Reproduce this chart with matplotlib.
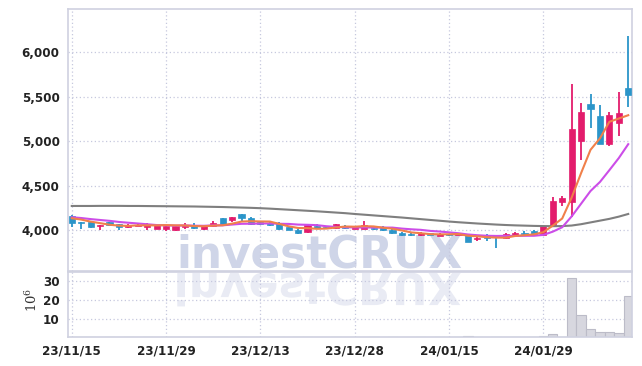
import matplotlib
matplotlib.use("Agg")
import matplotlib.pyplot as plt
import numpy as np
import pandas as pd
from matplotlib.textpath import TextPath
from matplotlib.patches import PathPatch
from matplotlib.font_manager import FontProperties
from matplotlib.transforms import Affine2D

# daily candles, 23/11/15 .. 24/02
opens = [4160, 4085, 4095, 4040, 4085, 4065, 4030, 4045, 4030, 4015,
         4015, 4000, 4035, 4040, 4015, 4040, 4130, 4115, 4180, 4140,
         4085, 4080, 4080, 4030, 4005, 3975, 4045, 4035, 4020, 4040,
         4015, 4015, 4025, 4035, 4000, 3970, 3958, 3945, 3965, 3935,
         3955, 3945, 3940, 3895, 3935, 3930, 3907, 3945, 3968, 3990,
         3945, 4050, 4320, 4320, 5000, 5420, 5285, 4963, 5200, 5600]
highs = [4170, 4085, 4095, 4060, 4095, 4070, 4065, 4075, 4075, 4060,
         4050, 4050, 4075, 4080, 4050, 4105, 4135, 4150, 4185, 4150,
         4100, 4085, 4085, 4035, 4010, 4060, 4065, 4040, 4070, 4060,
         4050, 4100, 4035, 4040, 4010, 3975, 3965, 3975, 3970, 3965,
         3960, 3965, 3945, 3920, 3955, 3935, 3965, 3975, 3985, 3995,
         4050, 4375, 4385, 5645, 5430, 5525, 5410, 5330, 5550, 6180]
lows = [4030, 4010, 4025, 4000, 4045, 4005, 4020, 4040, 4005, 4010,
        3985, 3985, 4015, 4015, 4005, 4035, 4060, 4095, 4100, 4060,
        4055, 4045, 4005, 4000, 3955, 3970, 4020, 4020, 4015, 4015,
        4010, 4010, 4000, 3990, 3960, 3935, 3935, 3935, 3940, 3930,
        3935, 3940, 3860, 3875, 3875, 3795, 3895, 3935, 3945, 3950,
        3935, 4045, 4265, 4150, 4790, 5150, 4965, 4940, 5055, 5385]
closes = [4080, 4075, 4030, 4055, 4055, 4030, 4060, 4060, 4055, 4055,
          4045, 4045, 4055, 4020, 4045, 4080, 4065, 4145, 4140, 4065,
          4065, 4060, 4012, 4005, 3970, 4055, 4025, 4025, 4065, 4025,
          4045, 4055, 4010, 3995, 3968, 3945, 3945, 3965, 3945, 3955,
          3948, 3960, 3870, 3912, 3905, 3925, 3955, 3965, 3955, 3955,
          4045, 4325, 4365, 5130, 5330, 5355, 4970, 5295, 5315, 5515]
# closes before the window (only feed the moving averages)
prior_closes = [4160, 4150, 4155, 4150, 4155, 4150, 4145, 4140, 4145]
# long moving average
ma_long = [4270, 4270, 4270, 4271, 4271, 4271, 4270, 4270, 4269, 4268,
           4267, 4266, 4265, 4264, 4262, 4260, 4258, 4255, 4252, 4249,
           4245, 4240, 4234, 4228, 4222, 4216, 4210, 4203, 4196, 4189,
           4180, 4172, 4164, 4156, 4148, 4140, 4131, 4122, 4113, 4104,
           4095, 4087, 4080, 4073, 4067, 4061, 4056, 4052, 4049, 4046,
           4044, 4043, 4044, 4050, 4065, 4085, 4105, 4125, 4150, 4180]
# volume in millions
volume = [0.6, 0.2, 0.2, 0.1, 0.2, 0.1, 0.2, 0.1, 0.2, 0.1,
          0.2, 0.1, 0.2, 0.1, 0.2, 0.4, 0.2, 0.1, 0.2, 0.1,
          0.2, 0.1, 0.2, 0.1, 0.4, 0.2, 0.1, 0.1, 0.2, 0.1,
          0.2, 0.1, 0.2, 0.1, 0.2, 0.1, 0.1, 0.2, 0.1, 0.2,
          0.1, 0.2, 0.8, 0.2, 0.1, 0.2, 0.1, 0.2, 0.1, 0.2,
          1.0, 2.0, 0.5, 31.4, 12.1, 4.6, 3.2, 3.2, 2.6, 22.0]
tick_idx = [0, 10, 20, 30, 40, 50]
tick_labels = ["23/11/15", "23/11/29", "23/12/13", "23/12/28", "24/01/15", "24/01/29"]

UP = "#e31c6c"
DOWN = "#2b95c9"
GRID = "#c6c8de"
FRAME = "#cfd1e0"
label_font = FontProperties(family="DejaVu Sans", stretch="condensed", weight="bold", size=9.5)

n = len(closes)
x = np.arange(n)
o = np.array(opens); c = np.array(closes)
colors = [UP if cc >= oo else DOWN for oo, cc in zip(o, c)]

allc = pd.Series(prior_closes + closes)
ma5 = allc.rolling(5).mean().values[len(prior_closes):]
ma10 = allc.rolling(10).mean().values[len(prior_closes):]

fig = plt.figure(figsize=(6.42, 3.66), dpi=100, facecolor="white")
ax = fig.add_axes([68 / 642, (366 - 271) / 366, 564 / 642, 262 / 366])
axv = fig.add_axes([68 / 642, (366 - 337.3) / 366, 564 / 642, 65 / 366], sharex=ax)

for a in (ax, axv):
    a.set_facecolor("none")
    a.grid(True, color=GRID, linestyle=(0, (1, 2)), linewidth=0.9)
    a.set_axisbelow(True)
    for s in a.spines.values():
        s.set_color(FRAME)
        s.set_linewidth(1.2)
    a.tick_params(length=0, colors="#222222", pad=6)

# watermark + reflection, behind the axes
wm_y = (366 - 267) / 366
fig.text(319 / 642, wm_y, "investCRUX", ha="center", va="baseline", fontsize=31.5,
         fontweight="bold", color="#cfd5e8", family="DejaVu Sans", zorder=-2)
tp = TextPath((0, 0), "investCRUX", size=44, prop=FontProperties(family="DejaVu Sans", weight="bold"))
ext = tp.get_extents()
tr = Affine2D().translate(-(ext.x0 + ext.x1) / 2, 0).scale(0.01, -0.01).translate(3.19, (366 - 273) / 100)
fig.add_artist(PathPatch(tp, transform=tr + fig.dpi_scale_trans, facecolor="#e9ebf4",
                         edgecolor="none", zorder=-3))

# candles
ax.vlines(x, lows, highs, colors=colors, linewidth=1.3, zorder=2)
body_lo = np.minimum(o, c)
body_h = np.maximum(np.abs(c - o), 8)
ax.bar(x, body_h, bottom=body_lo, width=0.65, color=colors, edgecolor=colors, linewidth=0.5, zorder=3)

ax.plot(x, ma_long, color="#7f7f7f", linewidth=1.5, zorder=4)
ax.plot(x, ma10, color="#cc4de8", linewidth=1.5, zorder=4)
ax.plot(x, ma5, color="#f0804a", linewidth=1.5, zorder=4)

ax.set_ylim(3539, 6484)
ax.set_yticks([4000, 4500, 5000, 5500, 6000])
ax.set_yticklabels(["4,000", "4,500", "5,000", "5,500", "6,000"], fontproperties=label_font)
ax.set_xlim(-0.4, 59.4)
ax.tick_params(axis="x", labelbottom=False)

axv.bar(x, volume, width=1.0, color="#d7d7df", edgecolor="#bcbcc8", linewidth=0.8, zorder=2)
axv.set_ylim(0.3, 34.6)
axv.set_yticks([10, 20, 30])
axv.set_yticklabels(["10", "20", "30"], fontproperties=label_font)
axv.set_xticks(tick_idx)
axv.set_xticklabels(tick_labels, fontproperties=label_font)
axv.tick_params(axis="x", pad=5)
fig.text(32 / 642, (366 - 300) / 366, r"$10^6$", rotation=90, ha="center", va="center",
         fontsize=9.5, color="#333333", math_fontfamily="dejavuserif")

fig.savefig("out.png", dpi=100, facecolor="white")
